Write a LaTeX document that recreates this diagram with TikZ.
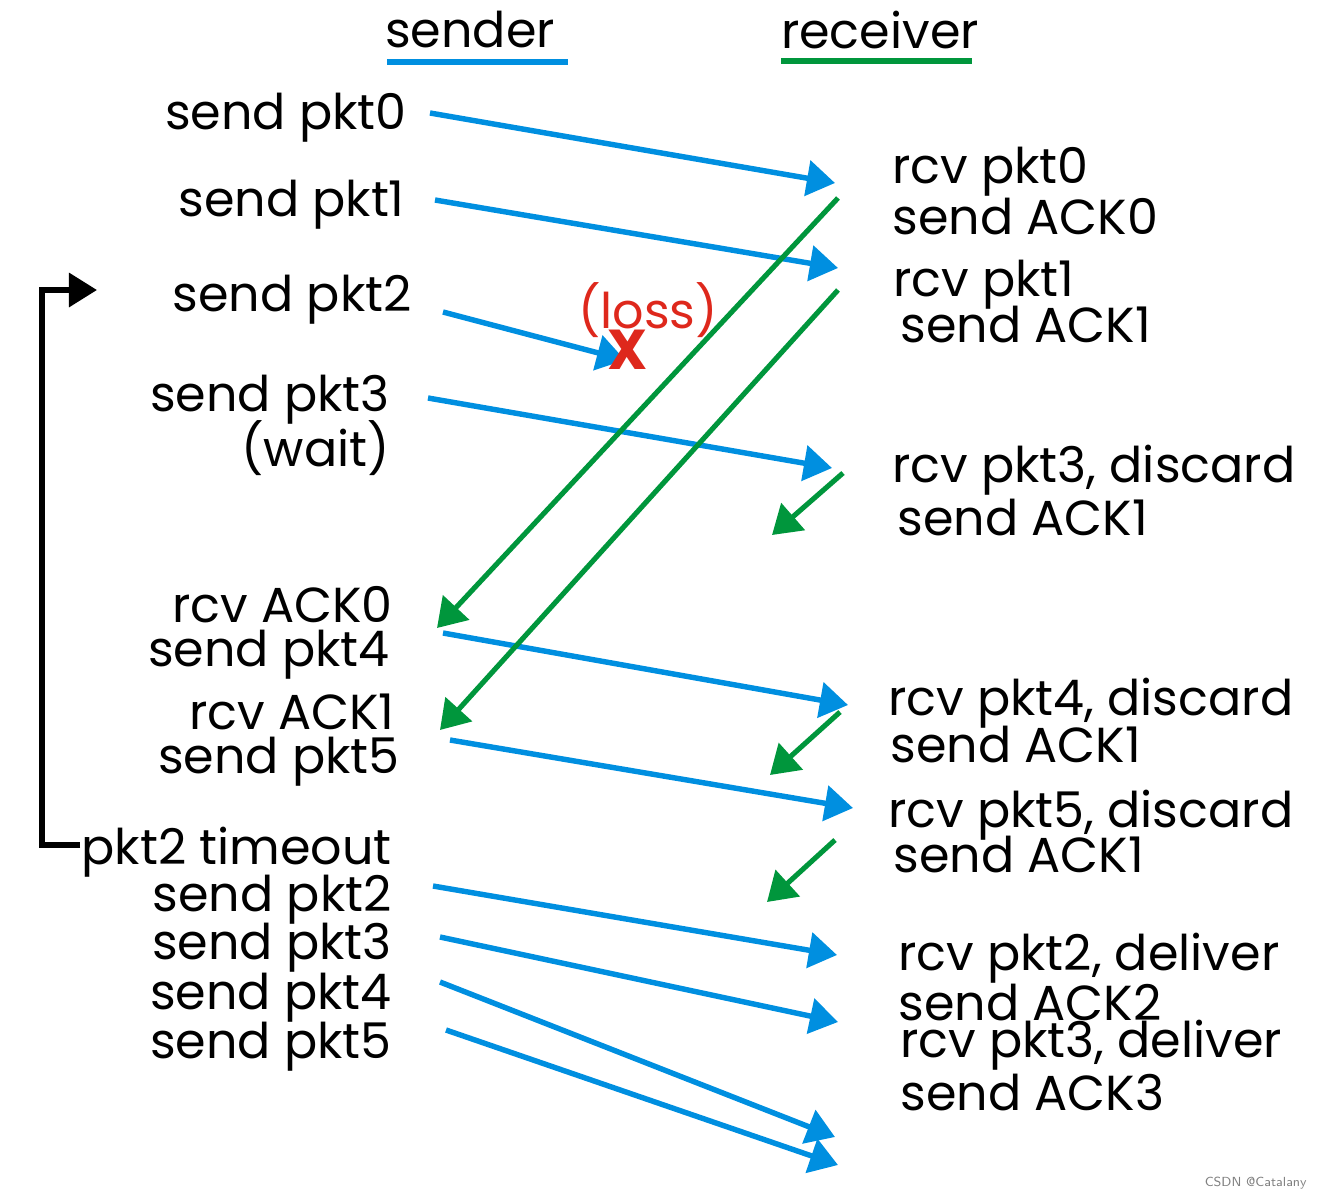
\documentclass[tikz,border=0pt]{standalone}
\usepackage{fontspec}
\setmainfont{Poppins}
\usetikzlibrary{arrows.meta}
\definecolor{pblue}{RGB}{0,143,224}
\definecolor{pgreen}{RGB}{0,150,60}
\definecolor{pred}{RGB}{222,40,28}
\begin{document}
\begin{tikzpicture}[x=0.02cm,y=-0.02cm,
  lbl/.style={inner sep=0pt,font=\fontsize{28}{32}\selectfont},
  lft/.style={lbl,anchor=east},
  rgt/.style={lbl,anchor=west},
  pkt/.style={draw=pblue,line width=3.1pt,-{Triangle[length=16pt,width=20pt]},fill=pblue},
  ack/.style={draw=pgreen,line width=2.9pt,-{Triangle[length=16pt,width=20pt]},fill=pgreen},
  ul/.style={line width=3pt}]
\useasboundingbox (0,0) rectangle (1322,1200);
% headers
\node[lbl] (snd) at (470,30) {sender};
\node[lbl] (rcv) at (880,30) {receiver};
\coordinate (su1) at (387,62); \coordinate (su2) at (568,62);
\coordinate (ru1) at (781,61); \coordinate (ru2) at (972,61);
\draw[ul,pblue] (su1) -- (su2);
\draw[ul,pgreen] (ru1) -- (ru2);
% sender labels
\node[lft] (s0) at (407,118) {send pkt0};
\node[lft] (s1) at (405,205) {send pkt1};
\node[lft] (s2) at (412,300) {send pkt2};
\node[lft] (s3) at (390,400) {send pkt3};
\node[lft] (sw) at (390,448) {(wait)};
\node[lft] (ra0) at (393,605) {rcv ACK0};
\node[lft] (s4) at (390,655) {send pkt4};
\node[lft] (ra1) at (395,712) {rcv ACK1};
\node[lft] (s5) at (400,762) {send pkt5};
\node[lft] (to) at (392,852) {pkt2 timeout};
\node[lft] (r2) at (392,900) {send pkt2};
\node[lft] (r3) at (392,948) {send pkt3};
\node[lft] (r4) at (392,998) {send pkt4};
\node[lft] (r5) at (392,1047) {send pkt5};
% receiver labels
\node[rgt] (q0) at (892,172) {rcv pkt0};
\node[rgt] (a0) at (892,217) {send ACK0};
\node[rgt] (q1) at (893,285) {rcv pkt1};
\node[rgt] (a1) at (900,325) {send ACK1};
\node[rgt] (q3) at (892,470) {rcv pkt3, discard};
\node[rgt] (a13) at (897,518) {send ACK1};
\node[rgt] (q4) at (888,703) {rcv pkt4, discard};
\node[rgt] (a14) at (890,745) {send ACK1};
\node[rgt] (q5) at (888,815) {rcv pkt5, discard};
\node[rgt] (a15) at (893,855) {send ACK1};
\node[rgt] (q2d) at (898,958) {rcv pkt2, deliver};
\node[rgt] (a2) at (898,1003) {send ACK2};
\node[rgt] (q3d) at (900,1045) {rcv pkt3, deliver};
\node[rgt] (a3) at (900,1093) {send ACK3};
% loss
\node[lbl,text=pred] (loss) at (648,310) {(loss)};
% packet arrows
\coordinate (p0a) at (430,113); \coordinate (p0b) at (835,183);
\coordinate (p1a) at (435,200); \coordinate (p1b) at (838,268);
\coordinate (p2a) at (443,312); \coordinate (p2b) at (625,360);
\coordinate (p3a) at (428,398); \coordinate (p3b) at (832,468);
\coordinate (p4a) at (443,633); \coordinate (p4b) at (848,705);
\coordinate (p5a) at (450,740); \coordinate (p5b) at (853,808);
\coordinate (p6a) at (433,886); \coordinate (p6b) at (837,955);
\coordinate (p7a) at (440,937); \coordinate (p7b) at (838,1022);
\coordinate (p8a) at (440,982); \coordinate (p8b) at (835,1137);
\coordinate (p9a) at (446,1030); \coordinate (p9b) at (838,1165);
\foreach \i in {0,...,9} {\draw[pkt] (p\i a) -- (p\i b);}
% ack arrows
\coordinate (k0a) at (838,198); \coordinate (k0b) at (437,628);
\coordinate (k1a) at (838,290); \coordinate (k1b) at (440,730);
\coordinate (k2a) at (843,473); \coordinate (k2b) at (772,535);
\coordinate (k3a) at (840,712); \coordinate (k3b) at (770,775);
\coordinate (k4a) at (835,840); \coordinate (k4b) at (767,902);
\foreach \i in {0,...,4} {\draw[ack] (k\i a) -- (k\i b);}
\node[inner sep=0pt,text=pred,font=\fontsize{32}{32}\selectfont\bfseries] (x) at (628,350) {X};
% timeout bracket
\coordinate (b0) at (80,845); \coordinate (b1) at (42,845);
\coordinate (b2) at (42,290); \coordinate (b3) at (97,290);
\draw[line width=3.2pt,-{Triangle[length=16pt,width=19pt]}] (b0) -- (b1) -- (b2) -- (b3);
% watermark
\node[inner sep=0pt,anchor=east,text=gray,font=\sffamily\fontsize{7.5}{8}\selectfont] (wm) at (1307,1183) {CSDN @Catalany};
\end{tikzpicture}
\end{document}
